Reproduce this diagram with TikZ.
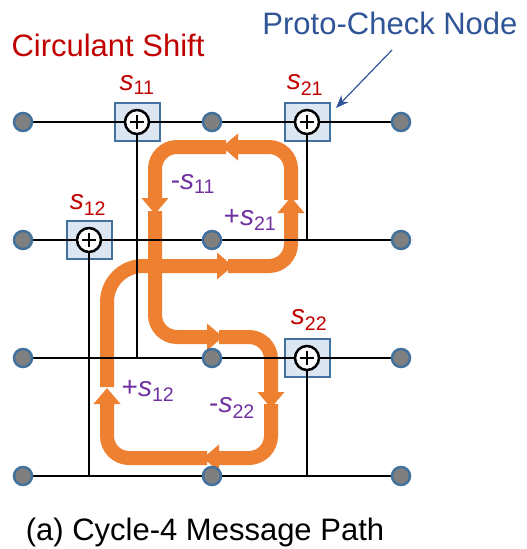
\documentclass[tikz,border=0pt]{standalone}
\usepackage{fontspec}
\setmainfont{Liberation Sans}
\usepackage{xcolor}
\usepackage{tikz}
\definecolor{shiftred}{RGB}{192, 0, 0}
\definecolor{protoblue}{RGB}{47, 85, 151}
\definecolor{edgeblue}{RGB}{65, 113, 156}
\definecolor{boxfill}{RGB}{220, 230, 242}
\definecolor{dotgray}{RGB}{127, 127, 127}
\definecolor{pathorange}{RGB}{238, 128, 50}
\definecolor{offsetpurple}{RGB}{112, 48, 160}
\usetikzlibrary{arrows.meta, positioning}
\newcommand{\shft}[1]{\textit{s}\textsubscript{#1}}
\pgfdeclarelayer{flowlayer}
\pgfdeclarelayer{boxlayer}
\pgfdeclarelayer{wirelayer}
\pgfsetlayers{flowlayer,boxlayer,wirelayer,main}

\begin{document}
\begin{tikzpicture}[
    x=1pt, y=-1pt,
    vnode/.style={circle, draw=edgeblue, fill=dotgray, line width=2.5pt, minimum size=18pt, inner sep=0pt},
    cbox/.style={rectangle, draw=edgeblue, fill=boxfill, line width=2pt, minimum width=45pt, minimum height=38pt},
    xorc/.style={circle, draw=black, fill=white, line width=2.5pt, minimum size=24pt, inner sep=0pt,
        path picture={
            \draw[black, line width=2pt] ([xshift=-7pt]path picture bounding box.center) -- ([xshift=7pt]path picture bounding box.center);
            \draw[black, line width=2pt] ([yshift=-7pt]path picture bounding box.center) -- ([yshift=7pt]path picture bounding box.center);
        }},
    wire/.style={black, line width=2.5pt},
    flow/.style={pathorange, line width=14pt, rounded corners=22pt, -{Triangle[width=26pt, length=16pt]}},
    title/.style={font=\fontsize{31}{36}\selectfont},
    shiftlbl/.style={text=shiftred, font=\fontsize{28}{32}\selectfont},
    offlbl/.style={text=offsetpurple, font=\fontsize{28}{32}\selectfont}
]
    \useasboundingbox (0,0) rectangle (527,549);

    % titles
    \node[title, text=shiftred] (cstitle) at (108, 45) {Circulant Shift};
    \node[title, text=protoblue] (pctitle) at (390, 23) {Proto-Check Node};

    % variable nodes
    \node[vnode] (d11) at (23, 122) {};
    \node[vnode] (d12) at (212, 122) {};
    \node[vnode] (d13) at (401, 122) {};
    \node[vnode] (d21) at (23, 240) {};
    \node[vnode] (d22) at (212, 240) {};
    \node[vnode] (d23) at (401, 240) {};
    \node[vnode] (d31) at (23, 358) {};
    \node[vnode] (d32) at (212, 358) {};
    \node[vnode] (d33) at (401, 358) {};
    \node[vnode] (d41) at (23, 476) {};
    \node[vnode] (d42) at (212, 476) {};
    \node[vnode] (d43) at (401, 476) {};

    % proto-check nodes
    \node[xorc] (x11) at (137, 122) {};
    \node[xorc] (x21) at (307, 122) {};
    \node[xorc] (x12) at (89, 240) {};
    \node[xorc] (x22) at (307, 358) {};
    \begin{pgfonlayer}{boxlayer}
        \node[cbox] (b11) at (x11) {};
        \node[cbox] (b21) at (x21) {};
        \node[cbox] (b12) at (x12) {};
        \node[cbox] (b22) at (x22) {};
    \end{pgfonlayer}

    \node[shiftlbl] (s11) at (137, 85) {\shft{11}};
    \node[shiftlbl] (s21) at (305, 85) {\shft{21}};
    \node[shiftlbl] (s12) at (88, 205) {\shft{12}};
    \node[shiftlbl] (s22) at (309, 320) {\shft{22}};

    \begin{pgfonlayer}{wirelayer}
        \draw[wire] (d11) -- (d13);
        \draw[wire] (d21) -- (d23);
        \draw[wire] (d31) -- (d33);
        \draw[wire] (d41) -- (d43);
        \draw[wire] (x11) -- (x11 |- d31);
        \draw[wire] (x21) -- (x21 |- d21);
        \draw[wire] (x12) -- (x12 |- d41);
        \draw[wire] (x22) -- (x22 |- d41);
    \end{pgfonlayer}

    % cycle-4 message path
    \begin{pgfonlayer}{flowlayer}
        \draw[flow, rounded corners=36pt] (107, 387) -- (107, 266) -- (233, 266);
        \draw[flow] (228, 266) -- (291, 266) -- (291, 197);
        \draw[flow] (291, 200) -- (291, 147) -- (222, 147);
        \draw[flow] (226, 147) -- (155, 147) -- (155, 214);
        \draw[flow] (155, 211) -- (155, 337) -- (223, 337);
        \draw[flow] (219, 337) -- (271, 337) -- (271, 408);
        \draw[flow] (271, 404) -- (271, 458) -- (203, 458);
        \draw[flow] (207, 458) -- (107, 458) -- (107, 388);
    \end{pgfonlayer}

    \node[offlbl] (m11) at (193, 184) {-\shft{11}};
    \node[offlbl] (p21) at (250, 220) {+\shft{21}};
    \node[offlbl] (p12) at (148, 391) {+\shft{12}};
    \node[offlbl] (m22) at (232, 408) {-\shft{22}};

    \coordinate (pctail) at (392, 50);
    \coordinate (pctip) at (336, 108);
    \draw[protoblue, line width=1.2pt, -{Stealth[length=13pt, width=10pt]}] (pctail) -- (pctip);

    \node[title] (caption) at (205, 532) {(a) Cycle-4 Message Path};
\end{tikzpicture}
\end{document}
